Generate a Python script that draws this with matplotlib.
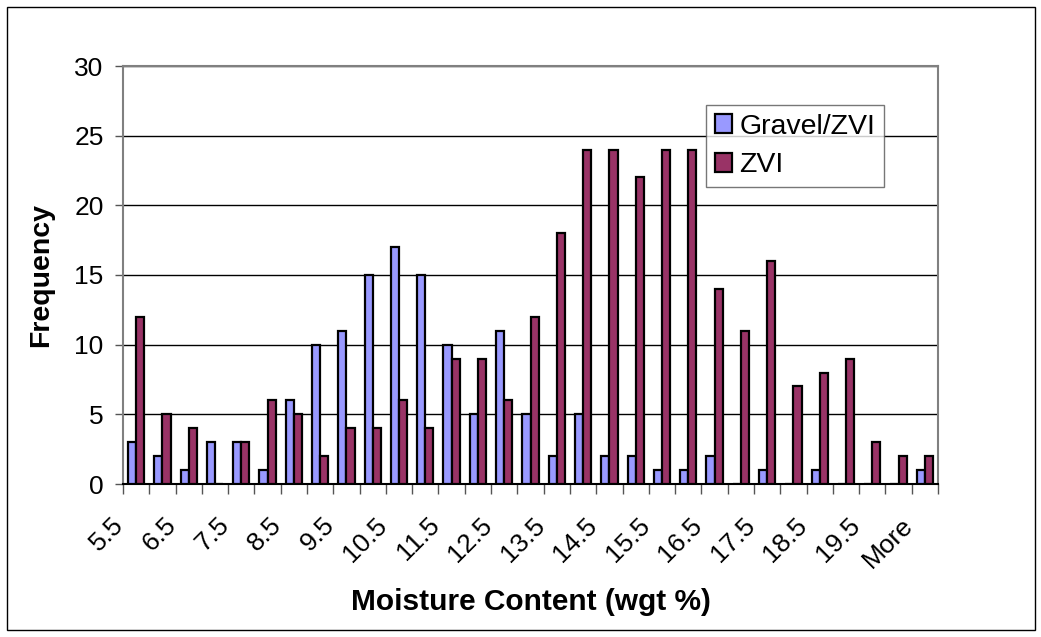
import matplotlib
matplotlib.use("Agg")
from matplotlib import pyplot as plt
from matplotlib.patches import Rectangle
from matplotlib.transforms import ScaledTranslation
import numpy as np

plt.rcParams['font.family'] = ['Liberation Sans', 'DejaVu Sans']

bins = ["5.5", "6", "6.5", "7", "7.5", "8", "8.5", "9", "9.5", "10",
        "10.5", "11", "11.5", "12", "12.5", "13", "13.5", "14", "14.5", "15",
        "15.5", "16", "16.5", "17", "17.5", "18", "18.5", "19", "19.5", "20", "More"]
gravel_zvi = [3, 2, 1, 3, 3, 1, 6, 10, 11, 15, 17, 15, 10, 5, 11, 5, 2, 5, 2, 2,
              1, 1, 2, 0, 1, 0, 1, 0, 0, 0, 1]
zvi = [12, 5, 4, 0, 3, 6, 5, 2, 4, 4, 6, 4, 9, 9, 6, 12, 18, 24, 24, 22,
       24, 24, 14, 11, 16, 7, 8, 9, 3, 2, 2]

fig = plt.figure(figsize=(10.41, 6.37), dpi=100)
ax = fig.add_axes([123/1041, 1 - 484/637, (938-123)/1041, (484-66)/637])

x = np.arange(len(bins))
w = 0.31
ax.bar(x - w/2, gravel_zvi, w, color="#9999FF", edgecolor="black", linewidth=1.6,
       label="Gravel/ZVI", zorder=3)
ax.bar(x + w/2, zvi, w, color="#993366", edgecolor="black", linewidth=1.6,
       label="ZVI", zorder=3)

ax.set_xlim(-0.5, len(bins) - 0.5)
ax.set_ylim(0, 30)
ax.set_yticks(range(0, 31, 5))
ax.yaxis.grid(True, color="black", linewidth=1)
ax.set_axisbelow(True)
ax.tick_params(axis="y", labelsize=19, direction="out", length=6, width=1,
               color="#555555", pad=8)

# ticks at category boundaries, labels every second category
ax.set_xticks(np.arange(len(bins) + 1) - 0.5)
ax.set_xticklabels([])
ax.set_xticks(x[::2], minor=True)
ax.set_xticklabels(bins[::2], minor=True, rotation=45, ha="right", va="center",
                   rotation_mode="anchor", fontsize=19)
ax.tick_params(axis="x", which="major", direction="out", length=7, width=1, color="#555555")
ax.tick_params(axis="x", which="minor", length=0, pad=27)
shift = ScaledTranslation(-16/100, 0, fig.dpi_scale_trans)
for lab in ax.get_xticklabels(minor=True):
    lab.set_transform(lab.get_transform() + shift)

for s in ax.spines.values():
    s.set_color("#808080")
    s.set_linewidth(1.5)
ax.spines["bottom"].set_color("black")

ax.set_ylabel("Frequency", fontsize=20.5, fontweight="bold", va="center")
ax.yaxis.set_label_coords((41-123)/815, 0.5)
ax.set_xlabel("Moisture Content (wgt %)", fontsize=21.5, fontweight="bold", va="center")
ax.xaxis.set_label_coords(0.5, (484-602)/418)

leg = ax.legend(loc="upper left", bbox_to_anchor=((706-123)/815, (484-105)/418),
                fontsize=20.5, frameon=True, fancybox=False, edgecolor="#555555",
                handlelength=0.63, handleheight=0.63, handletextpad=0.25,
                borderpad=0.3, labelspacing=0.45, borderaxespad=0)
leg.get_frame().set_linewidth(1)

fig.patches.append(Rectangle((7/1041, 7/637), 1028/1041, 623/637, transform=fig.transFigure,
                             fill=False, edgecolor="black", linewidth=1))

fig.savefig("out.png", dpi=100)
